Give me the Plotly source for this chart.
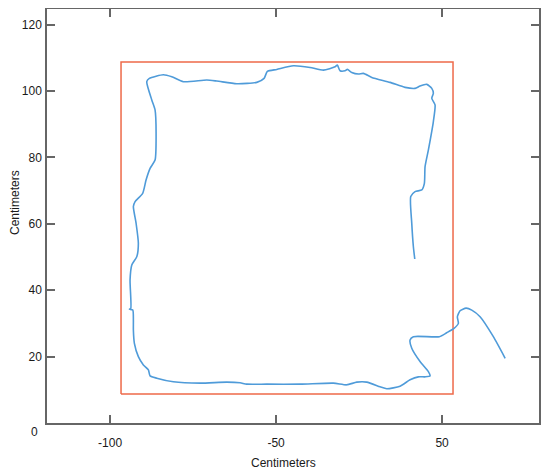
import plotly.graph_objects as go

# traced path (cm)
path_x = [19.0, 15.45, 11.45, 8.95, 7.23, 5.42, 4.61, 4.91, 3.61, 1.42, -0.81, -8.64, -9.64, -9.13,
          -6.63, -4.13, -3.61, -5.12, -7.14, -9.64, -12.65, -16.66, -18.67, -22.68, -25.69, -28.7,
          -32.74, -42.77, -52.8, -58.83, -60.84, -64.85, -72.89, -80.93, -85.93, -87.95, -88.46,
          -89.97, -91.48, -92.68, -92.98, -92.98, -93.16, -94.19, -93.77, -93.98, -93.46, -91.96,
          -91.48, -92.17, -92.98, -92.47, -90.18, -89.16, -87.95, -86.45, -86.14, -86.45, -87.44,
          -88.95, -88.16, -83.95, -81.42, -77.92, -70.87, -67.86, -61.84, -55.81, -53.61, -52.62,
          -49.79, -44.79, -39.76, -35.75, -32.23, -31.54, -30.72, -29.22, -28.52, -27.2, -25.21,
          -23.7, -21.17, -15.66, -11.14, -8.13, -6.63, -4.61, -3.1, -2.62, -3.1, -2.11, -2.62,
          -4.13, -5.12, -5.33, -6.11, -8.13, -9.43, -9.13, -8.64, -8.22]
path_y = [19.5, 26.0, 32.0, 34.0, 34.6, 33.8, 32.0, 30.0, 28.5, 27.2, 26.0, 26.0, 25.0, 22.5,
          18.5, 15.5, 14.2, 13.9, 13.9, 13.0, 11.1, 10.3, 10.9, 12.3, 12.3, 11.5,
          12.0, 11.7, 11.7, 11.7, 12.1, 12.3, 12.0, 12.4, 13.5, 14.2, 16.0,
          17.5, 20.0, 24.0, 28.0, 31.0, 34.0, 34.3, 34.5, 43.1, 47.6, 50.1,
          54.1, 60.2, 65.2, 66.7, 69.2, 73.2, 76.7, 79.2, 87.3, 94.3, 97.3,
          102.8, 103.8, 104.9, 104.3, 102.8, 103.3, 103.0, 102.2, 102.6, 103.8, 105.9,
          106.5, 107.6, 107.1, 106.3, 107.3, 107.8, 106.1, 106.1, 106.5, 105.6, 105.1,
          105.3, 104.1, 102.6, 101.1, 100.8, 101.5, 102.0, 100.8, 99.3, 97.8, 95.8, 90.8,
          82.2, 77.2, 72.2, 70.2, 69.7, 68.2, 60.2, 53.1, 49.4]

# reference square
box_x = [-96.7, 3.3, 3.3, -96.7, -96.7]
box_y = [8.7, 8.7, 108.7, 108.7, 8.7]

x_ticks = [-100, -50, 0]
x_labels = ['-100', '-50', '50']
y_ticks = [20, 40, 60, 80, 100, 120]

font = dict(family='Liberation Sans, Arial', size=12, color='#1a1a1a')

fig = go.Figure()
fig.add_trace(go.Scatter(x=box_x, y=box_y, mode='lines',
                         line=dict(color='#EE6A4A', width=1.5), hoverinfo='skip'))
fig.add_trace(go.Scatter(x=path_x, y=path_y, mode='lines',
                         line=dict(color='#4F9BD9', width=1.6, shape='spline', smoothing=0.6)))

axis_style = dict(showgrid=False, zeroline=False, showline=True, linecolor='#666666',
                  linewidth=1.5, mirror='ticks', ticks='inside', ticklen=8,
                  tickcolor='#666666', tickwidth=1.5, tickfont=font, automargin=False)

fig.update_xaxes(range=[-119, 29.2], tickvals=x_ticks, ticktext=x_labels,
                 ticklabelstandoff=8, **axis_style)
fig.update_yaxes(range=[0, 124.7], tickvals=y_ticks, ticklabelstandoff=1, **axis_style)

# page body adds ~8px offset, margins compensate for it
fig.add_annotation(text='Centimeters', xref='paper', yref='paper', x=0.4817, y=-0.0966,
                   xanchor='center', yanchor='middle', showarrow=False, font=font)
fig.add_annotation(text='Centimeters', xref='paper', yref='paper', x=-0.065, y=0.5314,
                   xanchor='center', yanchor='middle', textangle=-90, showarrow=False, font=font)
fig.add_annotation(text='0', xref='paper', yref='paper', x=-0.0244, y=-0.0217,
                   xanchor='center', yanchor='middle', showarrow=False, font=font)

fig.update_layout(width=550, height=473, autosize=False, showlegend=False,
                  margin=dict(l=39, r=19, t=1, b=58),
                  plot_bgcolor='white', paper_bgcolor='white')

fig.write_html("out.html")
